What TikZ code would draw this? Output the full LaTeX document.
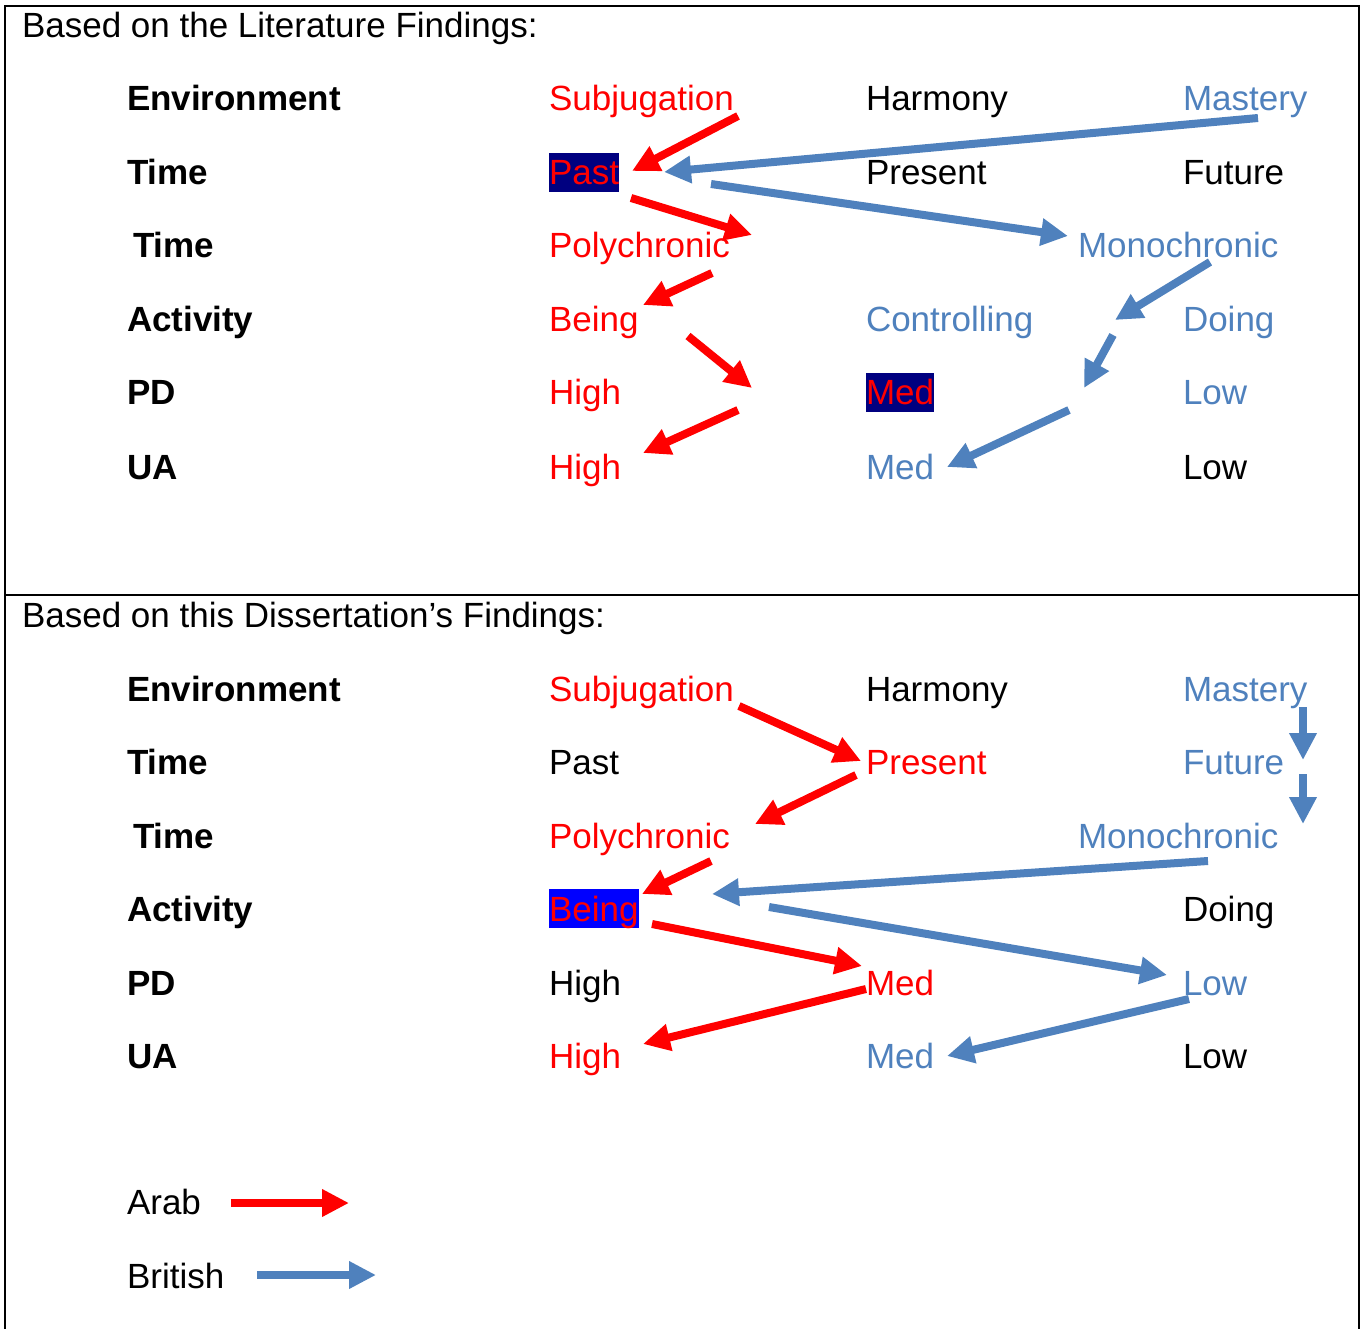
\documentclass[tikz,border=0pt]{standalone}
\usepackage{fontspec}
\setmainfont{Liberation Sans}
\usetikzlibrary{arrows.meta}
\definecolor{arabred}{HTML}{FF0000}
\definecolor{britblue}{HTML}{4F81BD}
\definecolor{navybg}{HTML}{000080}
\definecolor{brightbg}{HTML}{0000FF}

\begin{document}
\begin{tikzpicture}[x=1pt,y=-1pt,
  every node/.style={inner sep=0pt, outer sep=0pt, anchor=base west,
    yshift=-2pt, font=\fontsize{35}{42}\selectfont},
  rowlabel/.style={font=\fontsize{35}{42}\selectfont\bfseries},
  arabtxt/.style={text=arabred},
  brittxt/.style={text=britblue},
  hl/.style={fill=#1, text height=31.7pt, text depth=7.4pt},
  arabarrow/.style={draw=arabred, line width=8pt,
    -{Triangle[length=27pt,width=26pt]}},
  britarrow/.style={draw=britblue, line width=8pt,
    -{Triangle[length=27pt,width=26pt]}}
]
\useasboundingbox (0,0) rectangle (1363,1329);

% frame and divider
\draw[line width=2pt] (5,1329) -- (5,6) -- (1359,6) -- (1359,1329);
\draw[line width=2pt] (5,595) -- (1359,595);

% ---------- upper panel ----------
\node (h1) at (22,36) {Based on the Literature Findings:};

\node[rowlabel] (l1) at (127,109) {Environment};
\node[rowlabel] (l2) at (127,183) {Time};
\node[rowlabel] (l3) at (133,256) {Time};
\node[rowlabel] (l4) at (127,330) {Activity};
\node[rowlabel] (l5) at (127,403) {PD};
\node[rowlabel] (l6) at (127,477) {UA};

\node[arabtxt] (subj1) at (549,109) {Subjugation};
\node (harm1) at (866,109) {Harmony};
\node[brittxt] (mast1) at (1183,109) {Mastery};

\node[arabtxt,hl=navybg] (past1) at (549,183) {Past};
\node (pres1) at (866,183) {Present};
\node (fut1) at (1183,183) {Future};

\node[arabtxt] (poly1) at (549,256) {Polychronic};
\node[brittxt] (mono1) at (1078,256) {Monochronic};

\node[arabtxt] (being1) at (549,330) {Being};
\node[brittxt] (ctrl1) at (866,330) {Controlling};
\node[brittxt] (doing1) at (1183,330) {Doing};

\node[arabtxt] (pdh1) at (549,403) {High};
\node[arabtxt,hl=navybg] (pdm1) at (866,403) {Med};
\node[brittxt] (pdl1) at (1183,403) {Low};

\node[arabtxt] (uah1) at (549,477) {High};
\node[brittxt] (uam1) at (866,477) {Med};
\node (ual1) at (1183,477) {Low};

% arrow end points, upper panel
\coordinate (a1s) at (738,114);  \coordinate (a1e) at (632,169);
\coordinate (a2s) at (631,196);  \coordinate (a2e) at (752,233);
\coordinate (a3s) at (712,271);  \coordinate (a3e) at (643,303);
\coordinate (a4s) at (688,334);  \coordinate (a4e) at (752,386);
\coordinate (a5s) at (738,408);  \coordinate (a5e) at (643,451);
\coordinate (b1s) at (1258,116); \coordinate (b1e) at (664,170);
\coordinate (b2s) at (711,182);  \coordinate (b2e) at (1068,234);
\coordinate (b3s) at (1210,260); \coordinate (b3e) at (1115,318);
\coordinate (b4s) at (1113,333); \coordinate (b4e) at (1084,386);
\coordinate (b5s) at (1069,408); \coordinate (b5e) at (947,465);

\draw[arabarrow] (a1s) -- (a1e);
\draw[arabarrow] (a2s) -- (a2e);
\draw[arabarrow] (a3s) -- (a3e);
\draw[arabarrow] (a4s) -- (a4e);
\draw[arabarrow] (a5s) -- (a5e);
\draw[britarrow] (b1s) -- (b1e);
\draw[britarrow] (b2s) -- (b2e);
\draw[britarrow] (b3s) -- (b3e);
\draw[britarrow] (b4s) -- (b4e);
\draw[britarrow] (b5s) -- (b5e);

% ---------- lower panel ----------
\node (h2) at (22,625) {Based on this Dissertation’s Findings:};

\node[rowlabel] (m1) at (127,699) {Environment};
\node[rowlabel] (m2) at (127,772) {Time};
\node[rowlabel] (m3) at (133,846) {Time};
\node[rowlabel] (m4) at (127,919) {Activity};
\node[rowlabel] (m5) at (127,993) {PD};
\node[rowlabel] (m6) at (127,1066) {UA};

\node[arabtxt] (subj2) at (549,699) {Subjugation};
\node (harm2) at (866,699) {Harmony};
\node[brittxt] (mast2) at (1183,699) {Mastery};

\node (past2) at (549,772) {Past};
\node[arabtxt] (pres2) at (866,772) {Present};
\node[brittxt] (fut2) at (1183,772) {Future};

\node[arabtxt] (poly2) at (549,846) {Polychronic};
\node[brittxt] (mono2) at (1078,846) {Monochronic};

\node[arabtxt,hl=brightbg] (being2) at (549,919) {Being};
\node (doing2) at (1183,919) {Doing};

\node (pdh2) at (549,993) {High};
\node[arabtxt] (pdm2) at (866,993) {Med};
\node[brittxt] (pdl2) at (1183,993) {Low};

\node[arabtxt] (uah2) at (549,1066) {High};
\node[brittxt] (uam2) at (866,1066) {Med};
\node (ual2) at (1183,1066) {Low};

% arrow end points, lower panel
\coordinate (c1s) at (739,704);  \coordinate (c1e) at (861,759);
\coordinate (c2s) at (856,773);  \coordinate (c2e) at (755,822);
\coordinate (c3s) at (711,859);  \coordinate (c3e) at (642,892);
\coordinate (c4s) at (652,922);  \coordinate (c4e) at (862,964);
\coordinate (c5s) at (866,987);  \coordinate (c5e) at (643,1042);
\coordinate (d1s) at (1303,705); \coordinate (d1e) at (1303,758);
\coordinate (d2s) at (1303,772); \coordinate (d2e) at (1303,822);
\coordinate (d3s) at (1208,859); \coordinate (d3e) at (712,892);
\coordinate (d4s) at (769,905);  \coordinate (d4e) at (1167,973);
\coordinate (d5s) at (1189,997); \coordinate (d5e) at (947,1054);

\draw[arabarrow] (c1s) -- (c1e);
\draw[arabarrow] (c2s) -- (c2e);
\draw[arabarrow] (c3s) -- (c3e);
\draw[arabarrow] (c4s) -- (c4e);
\draw[arabarrow] (c5s) -- (c5e);
\draw[britarrow] (d1s) -- (d1e);
\draw[britarrow] (d2s) -- (d2e);
\draw[britarrow] (d3s) -- (d3e);
\draw[britarrow] (d4s) -- (d4e);
\draw[britarrow] (d5s) -- (d5e);

% ---------- legend ----------
\node (arab) at (127,1212) {Arab};
\node (brit) at (127,1286) {British};
\coordinate (k1s) at (231,1201); \coordinate (k1e) at (349,1201);
\coordinate (k2s) at (257,1273); \coordinate (k2e) at (376,1273);
\draw[arabarrow] (k1s) -- (k1e);
\draw[britarrow] (k2s) -- (k2e);
\end{tikzpicture}
\end{document}
